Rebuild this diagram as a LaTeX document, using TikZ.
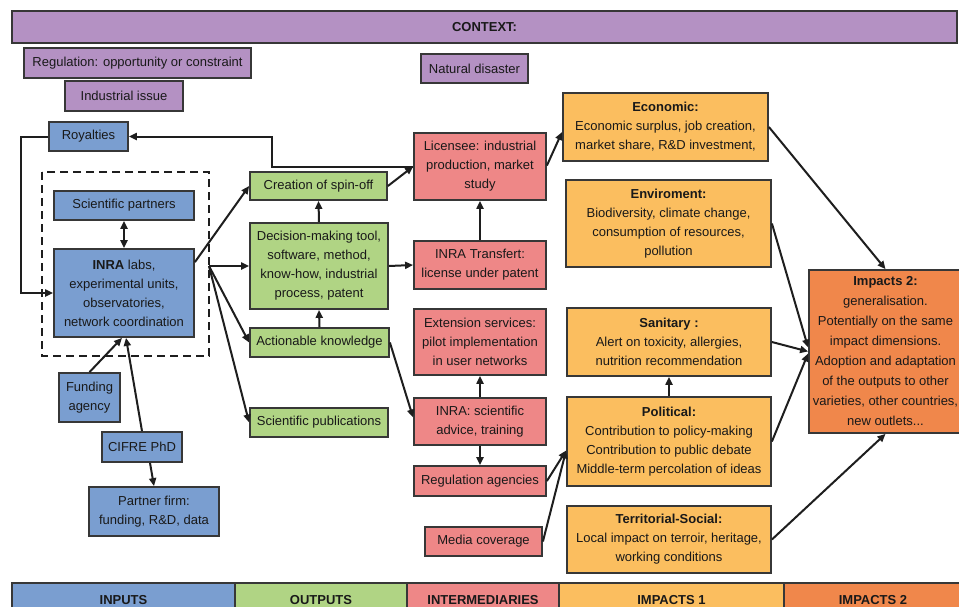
\documentclass[tikz,border=0pt]{standalone}
\usepackage{fontspec}
\setmainfont{Liberation Sans}
\usetikzlibrary{arrows.meta}
\definecolor{cpurple}{RGB}{180,145,195}
\definecolor{cblue}{RGB}{122,158,208}
\definecolor{cgreen}{RGB}{176,212,132}
\definecolor{cred}{RGB}{238,135,135}
\definecolor{corange}{RGB}{251,190,95}
\definecolor{cdorange}{RGB}{240,135,75}
\definecolor{cborder}{RGB}{55,55,55}
\definecolor{cline}{RGB}{30,30,30}
\tikzset{
  box/.style={draw=cborder, line width=1.8pt, align=center, inner sep=1pt,
    font=\fontsize{13}{19}\selectfont, text=black!90},
  pbox/.style={box, fill=cpurple},
  bbox/.style={box, fill=cblue},
  gbox/.style={box, fill=cgreen},
  rbox/.style={box, fill=cred},
  obox/.style={box, fill=corange},
  dbox/.style={box, fill=cdorange},
  sz/.style 2 args={minimum width=#1pt, minimum height=#2pt},
  arr/.style={draw=cline, line width=2pt, -{Triangle[length=8pt,width=7pt]}},
  darr/.style={draw=cline, line width=2pt, {Triangle[length=8pt,width=7pt]}-{Triangle[length=8pt,width=7pt]}}
}
\begin{document}
\begin{tikzpicture}[x=1pt, y=-1pt]
\useasboundingbox (0,0) rectangle (959,606);
\fill[white] (0,0) rectangle (959,606);

% context
\node[pbox, sz={945}{32}] (ctx) at (484.5,27) {\textbf{CONTEXT:}};
\node[pbox, sz={227}{30}] (reg) at (137.5,63) {Regulation: opportunity or constraint};
\node[pbox, sz={118}{30}] (ind) at (124,96) {Industrial issue};
\node[pbox, sz={107}{29}] (nat) at (474.5,68.5) {Natural disaster};

% inputs
\node[bbox, sz={79}{29}] (roy) at (88.5,136.5) {Royalties};
\draw[draw=cline, line width=2pt, dash pattern=on 8pt off 5pt] (42,172) rectangle (209,356);
\coordinate (hub) at (209,266);
\node[bbox, sz={140}{29}] (sp) at (124,205.5) {Scientific partners};
\node[bbox, sz={140}{88}] (labs) at (124,293) {\textbf{INRA} labs,\\experimental units,\\observatories,\\network coordination};
\node[bbox, sz={61}{49}] (fund) at (89.5,397.5) {Funding\\agency};
\node[bbox, sz={80}{30}] (cifre) at (142,447) {CIFRE PhD};
\node[bbox, sz={130}{49}] (partner) at (154,511.5) {Partner firm:\\funding, R\&D, data};

% outputs
\node[gbox, sz={137}{28}] (spin) at (318.5,186) {Creation of spin-off};
\node[gbox, sz={138}{86}] (dec) at (319,266) {Decision-making tool,\\software, method,\\know-how, industrial\\process, patent};
\node[gbox, sz={139}{29}] (act) at (319.5,342.5) {Actionable knowledge};
\node[gbox, sz={138}{29}] (pub) at (319,422.5) {Scientific publications};

% intermediaries
\node[rbox, sz={132}{67}] (lic) at (480,166.5) {Licensee: industrial\\production, market\\study};
\node[rbox, sz={132}{48}] (tr) at (480,265) {INRA Transfert:\\license under patent};
\node[rbox, sz={132}{66}] (ext) at (480,342) {Extension services:\\pilot implementation\\in user networks};
\node[rbox, sz={132}{47}] (sci) at (480,421.5) {INRA: scientific\\advice, training};
\node[rbox, sz={132}{30}] (rag) at (480,481) {Regulation agencies};
\node[rbox, sz={117}{29}] (med) at (483.5,541.5) {Media coverage};

% impacts 1
\node[obox, sz={205}{68}] (eco) at (665.5,127) {\textbf{Economic:}\\Economic surplus, job creation,\\market share, R\&D investment,};
\node[obox, sz={205}{87}] (env) at (668.5,223.5) {\textbf{Enviroment:}\\Biodiversity, climate change,\\consumption of resources,\\pollution};
\node[obox, sz={204}{68}] (san) at (669,342) {\textbf{Sanitary :}\\Alert on toxicity, allergies,\\nutrition recommendation};
\node[obox, sz={204}{89}] (pol) at (669,441.5) {\textbf{Political:}\\Contribution to policy-making\\Contribution to public debate\\Middle-term percolation of ideas};
\node[obox, sz={204}{67}] (ter) at (669,539.5) {\textbf{Territorial-Social:}\\Local impact on terroir, heritage,\\working conditions};

% impacts 2
\node[dbox, sz={153}{163}, font=\fontsize{13}{20}\selectfont] (imp) at (885.5,351.5) {\textbf{Impacts 2:}\\generalisation.\\Potentially on the same\\impact dimensions.\\Adoption and adaptation\\of the outputs to other\\varieties, other countries,\\new outlets...};

% bottom bar
\node[bbox, sz={223}{34}] (binp) at (123.5,600) {\textbf{INPUTS}};
\node[gbox, sz={172}{34}] (bout) at (321,600) {\textbf{OUTPUTS}};
\node[rbox, sz={152}{34}] (bint) at (483,600) {\textbf{INTERMEDIARIES}};
\node[obox, sz={225}{34}] (bim1) at (671.5,600) {\textbf{IMPACTS 1}};
\node[dbox, sz={178}{34}] (bim2) at (873,600) {\textbf{IMPACTS 2}};

% connectors: inputs
\draw[arr] (roy.west) -- ++(-27,0) |- (labs.west);
\draw[arr] (lic.west) -| (272,136.5) -- (roy.east);
\draw[darr] (sp.south) -- (labs.north);
\draw[arr] (fund.north) -- ([xshift=-2pt]labs.south);
\draw[arr] (cifre.north) -- ([xshift=2pt]labs.south);
\draw[arr] ([xshift=8pt]cifre.south) -- (partner.north);
\draw[arr] ([yshift=-14pt]labs.north east) -- (spin.west);
\draw[arr] (hub) -- (dec.west);
\draw[arr] (hub) -- (act.west);
\draw[arr] (hub) -- (pub.west);

% outputs
\draw[arr] (dec.north) -- (spin.south);
\draw[arr] (act.north) -- (dec.south);
\draw[arr] (spin.east) -- (lic.west);
\draw[arr] (dec.east) -- (tr.west);
\draw[arr] (act.east) -- ([yshift=4pt]sci.west);

% intermediaries
\draw[arr] (tr.north) -- (lic.south);
\draw[arr] (sci.north) -- (ext.south);
\draw[arr] (sci.south) -- (rag.north);
\draw[arr] ([yshift=1pt]lic.east) -- ([yshift=-5pt]eco.west);
\draw[arr] (rag.east) -- ([yshift=-9pt]pol.west);
\draw[arr] (med.east) -- ([yshift=-9pt]pol.west);

% impacts
\draw[arr] (pol.north) -- (san.south);
\draw[arr] (eco.east) -- (imp.north);
\draw[arr] (env.east) -- ([yshift=4pt]imp.west);
\draw[arr] (san.east) -- (imp.west);
\draw[arr] (pol.east) -- ([yshift=-2pt]imp.west);
\draw[arr] (ter.east) -- (imp.south);
\end{tikzpicture}
\end{document}
